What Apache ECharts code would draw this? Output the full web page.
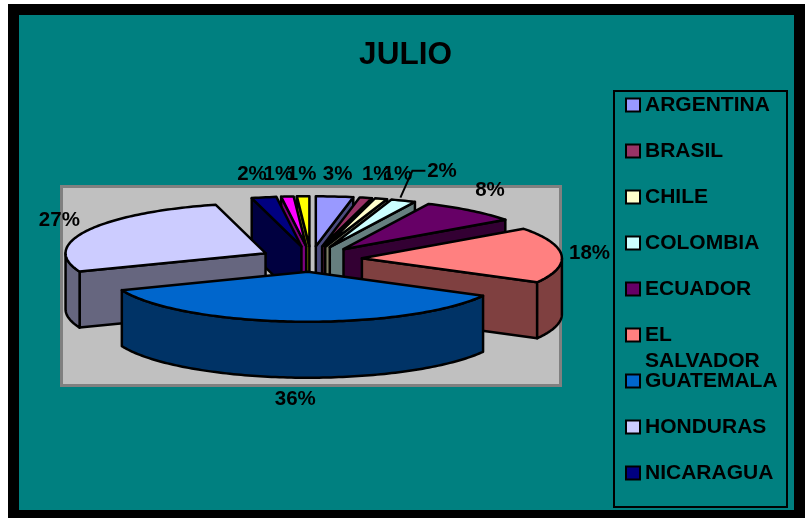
<!DOCTYPE html>
<html>
<head>
<meta charset="utf-8">
<style>html,body{margin:0;padding:0;background:#fff}#c{width:807px;height:518px}</style>
<script src="https://cdn.jsdelivr.net/npm/echarts@6/dist/echarts.min.js"></script>
</head>
<body>
<div id="c"></div>
<script>
// ---- data ----
const chartTitle = 'JULIO';
const countries = ['ARGENTINA','BRASIL','CHILE','COLOMBIA','ECUADOR','EL SALVADOR','GUATEMALA','HONDURAS','NICARAGUA','(sin leyenda 1)','(sin leyenda 2)'];
const percents  = [3,1,1,2,8,18,36,27,2,1,1];
const colors    = ['#9999FF','#993366','#FFFFCC','#CCFFFF','#660066','#FF8080','#0066CC','#CCCCFF','#000080','#FF00FF','#FFFF00'];

// ---- 3D pie layout ----
const C = {x:311, y:259, rx:200, ry:50, depth:56, explode:0.255};
// label offsets from the slice's rim mid-point
const labelOffsets = [[3,-22],[11,-23],[16.5,-24],[38.6,-29],[19,-20],[28,-2],[0,78],[-28,-10],[-12,-23],[-9,-22],[-1.5,-22]];

const total = percents.reduce((a,b)=>a+b,0);
const slices = [];
let cum = 0;
percents.forEach((v,i)=>{
  const a0 = cum/total*2*Math.PI; cum += v;
  const a1 = cum/total*2*Math.PI;
  const mid = (a0+a1)/2;
  slices.push({a0,a1,mid,
    ax:C.x+C.explode*C.rx*Math.sin(mid),
    ay:C.y-C.explode*C.ry*Math.cos(mid)});
});
function rim(s,a,drop){return [s.ax+C.rx*Math.sin(a), s.ay-C.ry*Math.cos(a)+(drop||0)];}
function arc(s,a0,a1,drop){
  const n=Math.max(2,Math.ceil((a1-a0)/0.02)),p=[];
  for(let k=0;k<=n;k++)p.push(rim(s,a0+(a1-a0)*k/n,drop));
  return p;
}
function halfColor(hex){
  const n=parseInt(hex.slice(1),16);
  const f=c=>Math.floor(c/2).toString(16).padStart(2,'0');
  return '#'+f(n>>16&255)+f(n>>8&255)+f(n&255);
}
const rank = slices.map((s,i)=>[Math.cos(s.mid),i]).sort((a,b)=>b[0]-a[0]).map(x=>x[1]);

function renderSlice(i){
  return function(){
    const s=slices[i], side=halfColor(colors[i]), kids=[];
    const st={stroke:'#000',lineWidth:2.5,lineJoin:'round'};
    const wall=a=>{
      const e=rim(s,a),b=rim(s,a,C.depth);
      kids.push({type:'polygon',shape:{points:[[s.ax,s.ay],e,b,[s.ax,s.ay+C.depth]]},style:Object.assign({fill:side},st)});
    };
    if(Math.sin(s.a0)<0) wall(s.a0);
    if(Math.sin(s.a1)>0) wall(s.a1);
    // visible front rim (between 90 and 270 degrees)
    const lo=Math.max(s.a0,Math.PI/2), hi=Math.min(s.a1,1.5*Math.PI);
    if(hi>lo){
      const top=arc(s,lo,hi,0), bot=arc(s,lo,hi,C.depth).reverse();
      kids.push({type:'polygon',shape:{points:top.concat(bot)},style:Object.assign({fill:side},st)});
    }
    const topFace=[[s.ax,s.ay]].concat(arc(s,s.a0,s.a1,0));
    kids.push({type:'polygon',shape:{points:topFace},style:Object.assign({fill:colors[i]},st)});
    return {type:'group',children:kids};
  };
}
function renderLabels(params,api){
  const i=params.dataIndex, s=slices[i], r=rim(s,s.mid), o=labelOffsets[i];
  const kids=[{type:'text',x:r[0]+o[0],y:r[1]+o[1],style:{text:api.value(1)+'%',fill:'#000',
    font:'bold 20.5px "Liberation Sans", Arial, sans-serif',align:'center',verticalAlign:'middle'}}];
  if(i===3){ // leader line of the COLOMBIA label
    kids.push({type:'polyline',shape:{points:[[r[0]-3,r[1]-3],[r[0]+9,r[1]-30],[r[0]+22,r[1]-30]]},style:{stroke:'#000',lineWidth:2,fill:null}});
  }
  return {type:'group',children:kids};
}

const series = countries.map((name,i)=>({
  type:'custom', name, coordinateSystem:'none', silent:true,
  z:5+rank.indexOf(i), itemStyle:{color:colors[i]},
  data:[[i,percents[i]]], renderItem:renderSlice(i), animation:false
}));
series.push({type:'custom',name:'labels',coordinateSystem:'none',silent:true,z:40,
  data:percents.map((v,i)=>[i,v]),renderItem:renderLabels,animation:false});

const legendBase = {
  orient:'vertical', left:625, itemWidth:14, itemHeight:13, itemGap:20, selectedMode:false,
  icon:'rect', itemStyle:{borderColor:'#000',borderWidth:2},
  textStyle:{color:'#000',fontFamily:'"Liberation Sans", Arial, sans-serif',fontWeight:'bold',fontSize:21,lineHeight:26},
  padding:0
};
const option = {
  backgroundColor:'#fff', animation:false,
  title:{text:chartTitle,left:405.5,top:39,textAlign:'center',padding:0,
    textStyle:{color:'#000',fontFamily:'"Liberation Sans", Arial, sans-serif',fontWeight:'bold',fontSize:31.5}},
  legend:[
    Object.assign({},legendBase,{top:92,data:countries.slice(0,5)}),
    Object.assign({},legendBase,{top:296,data:[countries[5]],formatter:()=>'\nEL\nSALVADOR'}),
    Object.assign({},legendBase,{top:368,data:countries.slice(6,9)})
  ],
  graphic:[
    {type:'rect',z:-10,silent:true,shape:{x:8,y:4,width:797,height:514},style:{fill:'#000'}},
    {type:'rect',z:-9,silent:true,shape:{x:19,y:15,width:775,height:495},style:{fill:'#008080'}},
    {type:'rect',z:-8,silent:true,shape:{x:61.5,y:186.5,width:499,height:199},style:{fill:'#C0C0C0',stroke:'#808080',lineWidth:3}},
    {type:'rect',z:-8,silent:true,shape:{x:614,y:91,width:173,height:416},style:{fill:'#008080',stroke:'#000',lineWidth:2}}
  ],
  series
};
echarts.init(document.getElementById('c'),null,{renderer:'canvas'}).setOption(option);
</script>
</body>
</html>
